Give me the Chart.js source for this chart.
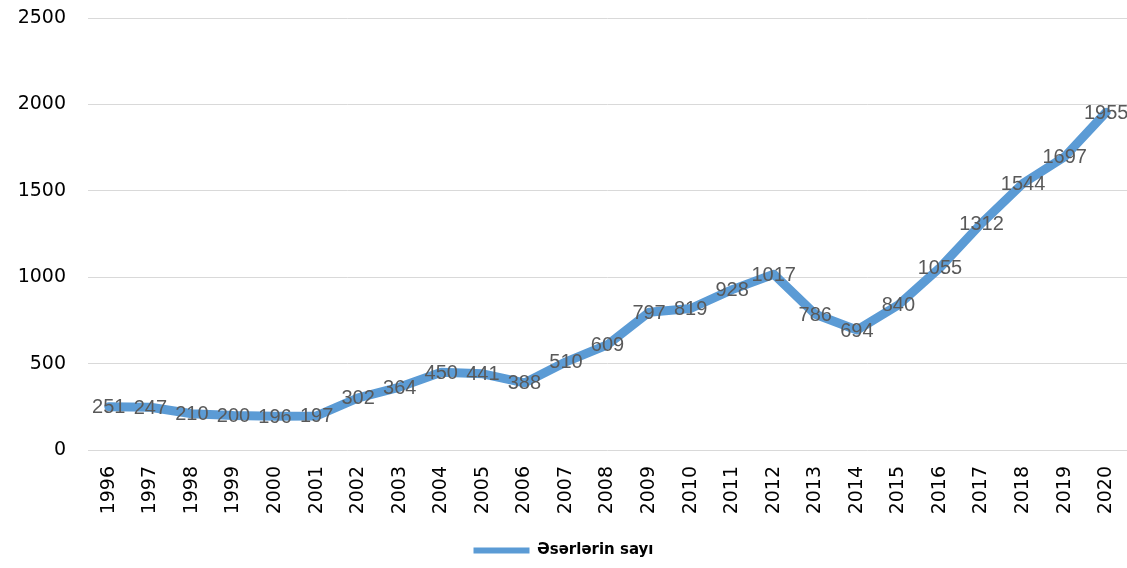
<!DOCTYPE html>
<html>
<head>
<meta charset="utf-8">
<script src="https://cdn.jsdelivr.net/npm/chart.js@4"></script>
<style>
  html, body { margin: 0; padding: 0; background: #fff; }
  #wrap { width: 1127px; height: 568px; position: relative; }
</style>
</head>
<body>
<div id="wrap"><canvas id="worksChart"></canvas></div>
<script>
// years and number of works per year
const years = ['1996', '1997', '1998', '1999', '2000', '2001', '2002', '2003', '2004', '2005',
  '2006', '2007', '2008', '2009', '2010', '2011', '2012', '2013', '2014', '2015',
  '2016', '2017', '2018', '2019', '2020'];
const worksCount = [251, 247, 210, 200, 196, 197, 302, 364, 450, 441,
  388, 510, 609, 797, 819, 928, 1017, 786, 694, 840,
  1055, 1312, 1544, 1697, 1955];
const seriesName = 'Əsərlərin sayı';
const yTicks = [0, 500, 1000, 1500, 2000, 2500];

const blue = '#5B9BD5';

// draws the value on top of each point, like excel's "center" labels
const valueLabels = {
  id: 'valueLabels',
  afterDatasetsDraw(chart) {
    const ctx = chart.ctx;
    const meta = chart.getDatasetMeta(0);
    ctx.save();
    ctx.font = '20px "Liberation Sans", Arial, sans-serif';
    ctx.fillStyle = '#595959';
    ctx.textAlign = 'center';
    ctx.textBaseline = 'middle';
    meta.data.forEach((pt, i) => {
      ctx.fillText(String(chart.data.datasets[0].data[i]), pt.x, pt.y + 1);
    });
    ctx.restore();
  }
};

new Chart(document.getElementById('worksChart'), {
  type: 'line',
  data: {
    labels: years,
    datasets: [{
      label: seriesName,
      data: worksCount,
      borderColor: blue,
      backgroundColor: blue,
      borderWidth: 9,
      borderJoinStyle: 'round',
      borderCapStyle: 'round',
      pointRadius: 0,
      tension: 0
    }]
  },
  options: {
    responsive: true,
    maintainAspectRatio: false,
    animation: false,
    layout: { padding: { top: 18, right: 0, left: 0, bottom: 0 } },
    scales: {
      x: {
        offset: true,
        grid: { display: false, drawTicks: false },
        border: { display: false },
        ticks: {
          color: '#000',
          font: { family: '"DejaVu Sans", Verdana, sans-serif', size: 19 },
          minRotation: 90,
          maxRotation: 90,
          padding: 16,
          autoSkip: false
        },
        afterFit(scale) {
          scale.height = 83;
          scale.paddingLeft = 0;
          scale.paddingRight = 0;
        }
      },
      y: {
        min: 0,
        max: 2500,
        afterBuildTicks(scale) { scale.ticks = yTicks.map(v => ({ value: v })); },
        grid: { color: '#d9d9d9', lineWidth: 1, drawTicks: false },
        border: { display: false },
        ticks: {
          color: '#000',
          font: { family: '"DejaVu Sans", Verdana, sans-serif', size: 19 },
          padding: 22,
          callback: v => String(v)
        },
        afterFit(scale) {
          scale.width = 88;
          scale.paddingTop = 0;
          scale.paddingBottom = 0;
        }
      }
    },
    plugins: {
      tooltip: { enabled: false },
      legend: {
        position: 'bottom',
        labels: {
          color: '#000',
          font: { family: '"DejaVu Sans", Verdana, sans-serif', size: 15, weight: '600' },
          boxWidth: 56,
          boxHeight: 6,
          padding: 10,
          generateLabels(chart) {
            return chart.data.datasets.map((ds, i) => ({
              text: ds.label,
              fillStyle: ds.borderColor,
              strokeStyle: ds.borderColor,
              lineWidth: 0,
              datasetIndex: i
            }));
          }
        }
      }
    }
  },
  plugins: [valueLabels]
});
</script>
</body>
</html>
